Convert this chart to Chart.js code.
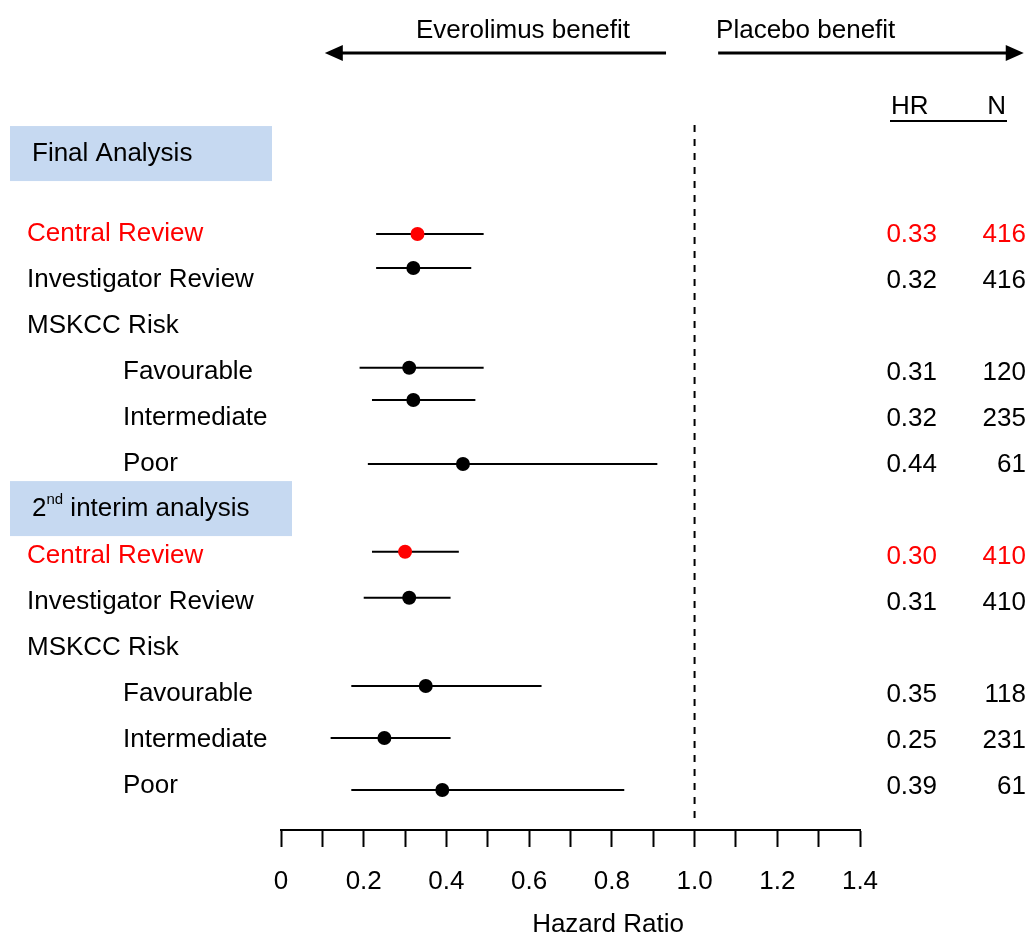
<!DOCTYPE html>
<html>
<head>
<meta charset="utf-8">
<title>Everolimus forest plot</title>
<script src="https://cdn.jsdelivr.net/npm/chart.js@4.4.0/dist/chart.umd.min.js"></script>
<style>
  html, body { margin: 0; padding: 0; background: #fff; }
</style>
</head>
<body>
<canvas id="forest" width="1030" height="936"></canvas>
<script>
// rows under the two section headers (top to bottom)
const rowNames   = ['Central Review', 'Investigator Review', 'MSKCC Risk', 'Favourable', 'Intermediate', 'Poor',
                    'Central Review', 'Investigator Review', 'MSKCC Risk', 'Favourable', 'Intermediate', 'Poor'];
const rowLevel   = [0, 0, 0, 1, 1, 1, 0, 0, 0, 1, 1, 1];
const rowPos     = [1, 2, 3, 4, 5, 6, 8, 9, 10, 11, 12, 13];
const markerPos  = [1.02, 1.76, null, 3.93, 4.63, 6.02, 7.93, 8.93, null, 10.85, 11.98, 13.11];
const hrValues   = [0.33, 0.32, null, 0.31, 0.32, 0.44, 0.30, 0.31, null, 0.35, 0.25, 0.39];
const ciLow      = [0.23, 0.23, null, 0.19, 0.22, 0.21, 0.22, 0.20, null, 0.17, 0.12, 0.17];
const ciHigh     = [0.49, 0.46, null, 0.49, 0.47, 0.91, 0.43, 0.41, null, 0.63, 0.41, 0.83];
const nValues    = [416, 416, null, 120, 235, 61, 410, 410, null, 118, 231, 61];
const highlight  = [true, false, false, false, false, false, true, false, false, false, false, false];

const sectionNames = ['Final Analysis', '2nd interim analysis'];
const sectionPos   = [-0.74, 6.98];

const xTicks      = [0, 0.1, 0.2, 0.3, 0.4, 0.5, 0.6, 0.7, 0.8, 0.9, 1.0, 1.1, 1.2, 1.3, 1.4];
const xTickLabels = ['0', '', '0.2', '', '0.4', '', '0.6', '', '0.8', '', '1.0', '', '1.2', '', '1.4'];
const xTitle = 'Hazard Ratio';

const FONT = "'Liberation Sans', Arial, sans-serif";
const RED = '#ff0000';
const BOX = '#c6d9f1';
Chart.defaults.font.family = FONT;
Chart.defaults.color = '#000';

// 1) datasets: markers on top, then CI lines, then the no-effect line
const idx = rowNames.map((_, i) => i).filter(i => hrValues[i] != null);

const markerSet = {
  data: idx.map(i => ({ x: hrValues[i], y: markerPos[i] })),
  pointRadius: 7,
  pointBorderWidth: 0,
  pointBackgroundColor: idx.map(i => highlight[i] ? RED : '#000'),
  showLine: false
};

const ciSets = idx.map(i => ({
  data: [{ x: ciLow[i], y: markerPos[i] }, { x: ciHigh[i], y: markerPos[i] }],
  showLine: true,
  borderColor: '#000',
  borderWidth: 2,
  pointRadius: 0
}));

const refLine = {
  data: [{ x: 1, y: -1.35 }, { x: 1, y: 13.76 }],
  showLine: true,
  borderColor: '#000',
  borderWidth: 2,
  borderDash: [7, 7],
  pointRadius: 0
};

// 2) text, header boxes and arrows
function drawArrow(ctx, from, tip, y) {
  const dir = Math.sign(tip - from);
  ctx.beginPath();
  ctx.moveTo(from, y);
  ctx.lineTo(tip - dir * 12, y);
  ctx.stroke();
  ctx.beginPath();
  ctx.moveTo(tip, y);
  ctx.lineTo(tip - dir * 18, y - 8);
  ctx.lineTo(tip - dir * 18, y + 8);
  ctx.closePath();
  ctx.fill();
}

const forestText = {
  id: 'forestText',
  afterDraw(chart) {
    const { ctx } = chart;
    const xs = chart.scales.x, ys = chart.scales.y;
    ctx.save();
    ctx.textBaseline = 'middle';
    ctx.fillStyle = '#000';
    ctx.strokeStyle = '#000';

    // section header boxes
    const boxRight = [272, 292];
    sectionNames.forEach((name, k) => {
      const cy = ys.getPixelForValue(sectionPos[k]);
      ctx.fillStyle = BOX;
      ctx.fillRect(10, cy - 27, boxRight[k] - 10, 55);
      ctx.fillStyle = '#000';
      ctx.textAlign = 'left';
      const m = name.match(/^(\d+)(st|nd|rd|th)(.*)$/);
      let x = 32;
      if (m) {
        ctx.font = '26px ' + FONT;
        ctx.fillText(m[1], x, cy + 1);
        x += ctx.measureText(m[1]).width;
        ctx.font = '15px ' + FONT;
        ctx.fillText(m[2], x, cy - 8);
        x += ctx.measureText(m[2]).width;
        ctx.font = '26px ' + FONT;
        ctx.fillText(m[3], x, cy + 1);
      } else {
        ctx.font = '26px ' + FONT;
        ctx.fillText(name, x, cy + 1);
      }
    });

    // row labels and HR / N columns
    ctx.font = '26px ' + FONT;
    rowNames.forEach((name, i) => {
      const cy = ys.getPixelForValue(rowPos[i]);
      ctx.fillStyle = highlight[i] ? RED : '#000';
      ctx.textAlign = 'left';
      ctx.fillText(name, rowLevel[i] ? 123 : 27, cy + 1);
      if (hrValues[i] != null) {
        ctx.textAlign = 'right';
        ctx.fillText(hrValues[i].toFixed(2), 937, cy + 2);
        ctx.fillText(String(nValues[i]), 1026, cy + 2);
      }
    });

    // column headers
    ctx.fillStyle = '#000';
    ctx.textAlign = 'left';
    ctx.fillText('HR', 891, 107);
    ctx.textAlign = 'right';
    ctx.fillText('N', 1006, 107);
    ctx.lineWidth = 2;
    ctx.beginPath();
    ctx.moveTo(890, 121);
    ctx.lineTo(1007, 121);
    ctx.stroke();

    // benefit arrows
    ctx.textAlign = 'center';
    ctx.fillText('Everolimus benefit', xs.getPixelForValue(0.585), 31);
    ctx.textAlign = 'left';
    ctx.fillText('Placebo benefit', xs.getPixelForValue(1.052), 31);
    ctx.lineWidth = 3;
    drawArrow(ctx, xs.getPixelForValue(0.931), xs.getPixelForValue(0.106), 53);
    drawArrow(ctx, xs.getPixelForValue(1.057), xs.getPixelForValue(1.796), 53);

    // axis title (sits right of the axis centre in the original)
    ctx.textAlign = 'center';
    ctx.fillText(xTitle, 608, 925);

    ctx.restore();
  }
};

// 3) chart
new Chart(document.getElementById('forest'), {
  type: 'scatter',
  data: { datasets: [markerSet, ...ciSets, refLine] },
  options: {
    responsive: false,
    animation: false,
    devicePixelRatio: 1,
    events: [],
    layout: { padding: { left: 281, right: 170, top: 125, bottom: 0 } },
    plugins: { legend: { display: false }, tooltip: { enabled: false } },
    scales: {
      x: {
        type: 'linear',
        min: 0,
        max: 1.4,
        afterBuildTicks: s => { s.ticks = xTicks.map(v => ({ value: v })); },
        afterFit: s => { s.height = 106; },
        grid: { drawOnChartArea: false, drawTicks: true, tickLength: 17, tickWidth: 2, color: '#000' },
        border: { display: true, color: '#000', width: 2 },
        ticks: {
          autoSkip: false,
          maxRotation: 0,
          padding: 19,
          font: { size: 26 },
          color: '#000',
          callback: (v, i) => xTickLabels[i]
        },
        title: { display: false }
      },
      y: {
        type: 'linear',
        display: false,
        reverse: true,
        min: -1.35,
        max: 13.98
      }
    }
  },
  plugins: [forestText]
});
</script>
</body>
</html>
